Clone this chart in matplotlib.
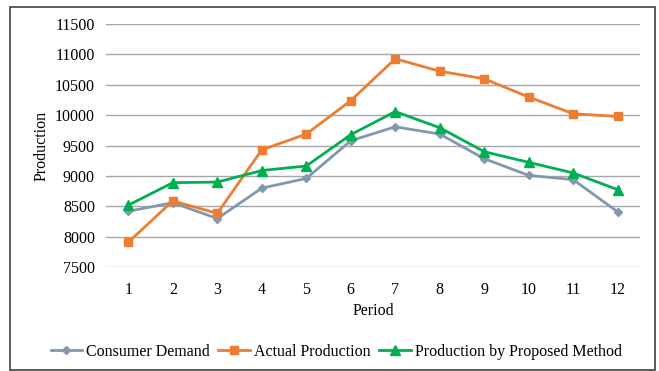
import matplotlib.pyplot as plt
from matplotlib.patches import Rectangle

plt.rcParams["font.family"] = ["Liberation Serif", "DejaVu Serif"]

periods = list(range(1, 13))
consumer_demand = [8420, 8560, 8300, 8800, 8960, 9580, 9810, 9690, 9285, 9010, 8940, 8410]
actual_production = [7910, 8590, 8385, 9430, 9690, 10240, 10930, 10725, 10600, 10300, 10025, 9980]
proposed_method = [8520, 8890, 8900, 9090, 9165, 9680, 10060, 9795, 9400, 9225, 9050, 8775]
yticks = list(range(7500, 11501, 500))

fig = plt.figure(figsize=(6.59, 3.71), dpi=100)
ax = fig.add_axes([0.161, 0.280, 0.810, 0.655])

ax.plot(periods, consumer_demand, color="#8497B0", lw=2, marker="D", ms=4.5,
        label="Consumer Demand")
ax.plot(periods, actual_production, color="#ED7D31", lw=2, marker="s", ms=6,
        label="Actual Production")
ax.plot(periods, proposed_method, color="#00B050", lw=2, marker="^", ms=6.5,
        label="Production by Proposed Method")

ax.set_xlim(0.5, 12.5)
ax.set_ylim(7500, 11500)
ax.set_xticks(periods)
ax.set_yticks(yticks)
ax.tick_params(axis="y", length=0, labelsize=11.5, pad=8)
ax.tick_params(axis="x", length=0, labelsize=11.5, pad=11)
ax.grid(axis="y", color="#A6A6A6", lw=1)
ax.set_axisbelow(True)
for s in ax.spines.values():
    s.set_visible(False)

ax.set_xlabel("Period", fontsize=11.5, labelpad=3)
ax.set_ylabel("Production", fontsize=11.5, labelpad=4)

fig.legend(loc="center", bbox_to_anchor=(0.51, 0.052), ncol=3, frameon=False,
           fontsize=11.5, handlelength=2, columnspacing=0.5, handletextpad=0.25)

fig.patches.append(Rectangle((10 / 659, 1 / 371), 645 / 659, 363 / 371,
                             transform=fig.transFigure, fill=False,
                             edgecolor="#404040", lw=1.2))

fig.savefig("out.png", dpi=100)
